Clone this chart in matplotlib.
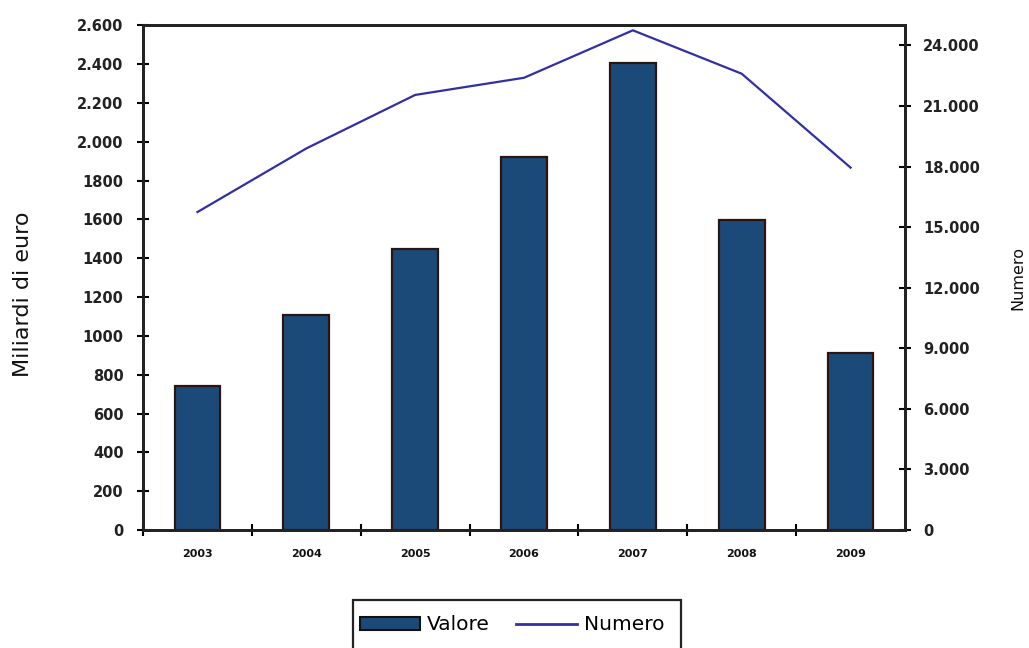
import matplotlib
matplotlib.use("Agg")
import matplotlib.pyplot as plt
from matplotlib.patches import Patch, Rectangle
from matplotlib.lines import Line2D

# Data
years = ["2003", "2004", "2005", "2006", "2007", "2008", "2009"]
valore = [741, 1107, 1447, 1920, 2404, 1596, 911]          # miliardi di euro
numero = [15750, 18900, 21550, 22400, 24750, 22600, 17950]  # numero operazioni

left_ticks = [0, 200, 400, 600, 800, 1000, 1200, 1400, 1600, 1800, 2000, 2200, 2400, 2600]
left_labels = ["0", "200", "400", "600", "800", "1000", "1200", "1400", "1600",
               "1800", "2.000", "2.200", "2.400", "2.600"]
right_ticks = [0, 3000, 6000, 9000, 12000, 15000, 18000, 21000, 24000]
right_labels = ["0", "3.000", "6.000", "9.000", "12.000", "15.000", "18.000",
                "21.000", "24.000"]

bar_color = "#1b4a78"
bar_edge = "#2b1512"
line_color = "#3030a4"

fig = plt.figure(figsize=(10.29, 6.48), dpi=100)
ax = fig.add_axes([0.139, 0.182, 0.7405, 0.779])
ax2 = ax.twinx()

x = list(range(len(years)))
ax.bar(x, valore, width=0.42, color=bar_color, edgecolor=bar_edge, linewidth=1.6, zorder=2)
ax2.plot(x, numero, color=line_color, linewidth=1.6, zorder=3)

ax.set_xlim(-0.5, len(years) - 0.5)
ax.set_ylim(0, 2600)
ax2.set_ylim(0, 25000)

# Left axis
ax.set_yticks(left_ticks)
ax.set_yticklabels(left_labels, fontsize=10.5, fontweight="bold", color="#222222")
ax.tick_params(axis="y", direction="inout", length=8, width=1.5, pad=10)

# Right axis
ax2.set_yticks(right_ticks)
ax2.set_yticklabels(right_labels, fontsize=10.5, fontweight="bold", color="#222222")
ax2.tick_params(axis="y", direction="inout", length=8, width=1.5, pad=9)

# Category axis: ticks between categories, labels centred under bars
ax.set_xticks([i + 0.5 for i in x[:-1]] + [-0.5])
ax.set_xticklabels([])
ax.tick_params(axis="x", direction="inout", length=8, width=1.5)
for i, yr in zip(x, years):
    ax.text(i, -0.048, yr, transform=ax.get_xaxis_transform(), ha="center", va="center",
            fontsize=8, fontweight="bold", color="#111111")

for a in (ax, ax2):
    for side in ("left", "right", "top", "bottom"):
        a.spines[side].set_linewidth(2.0)
        a.spines[side].set_color("#222222")

# Axis titles, vertically centred on the plot area
ymid = 0.182 + 0.779 / 2
fig.text(0.022, ymid - 0.025, "Miliardi di euro", rotation=90, ha="center", va="center",
         fontsize=16, color="#111111")
fig.text(0.989, ymid, "Numero", rotation=90, ha="center", va="center",
         fontsize=11.5, color="#111111")

handles = [Patch(facecolor=bar_color, edgecolor="#111111", linewidth=1.5),
           Line2D([0], [0], color=line_color, linewidth=2.0)]
leg = fig.legend(handles, ["Valore", "Numero"], loc="center",
                 bbox_to_anchor=(0.4975, 1 - 625 / 648), ncol=2, fontsize=14.5,
                 frameon=False, handlelength=3.0, handleheight=0.65,
                 handletextpad=0.35, columnspacing=1.3, borderpad=0.35,
                 borderaxespad=0)

# Legend box: open at the lower edge of the figure
fig.canvas.draw()
bb = leg.get_window_extent().transformed(fig.transFigure.inverted())
top = 1 - 600 / 648
extra = 10 / 1029
fig.add_artist(Rectangle((bb.x0, -0.05), bb.width + extra, top + 0.05,
                         transform=fig.transFigure, fill=False,
                         edgecolor="#222222", linewidth=1.6))

fig.savefig("out.png", dpi=100)
